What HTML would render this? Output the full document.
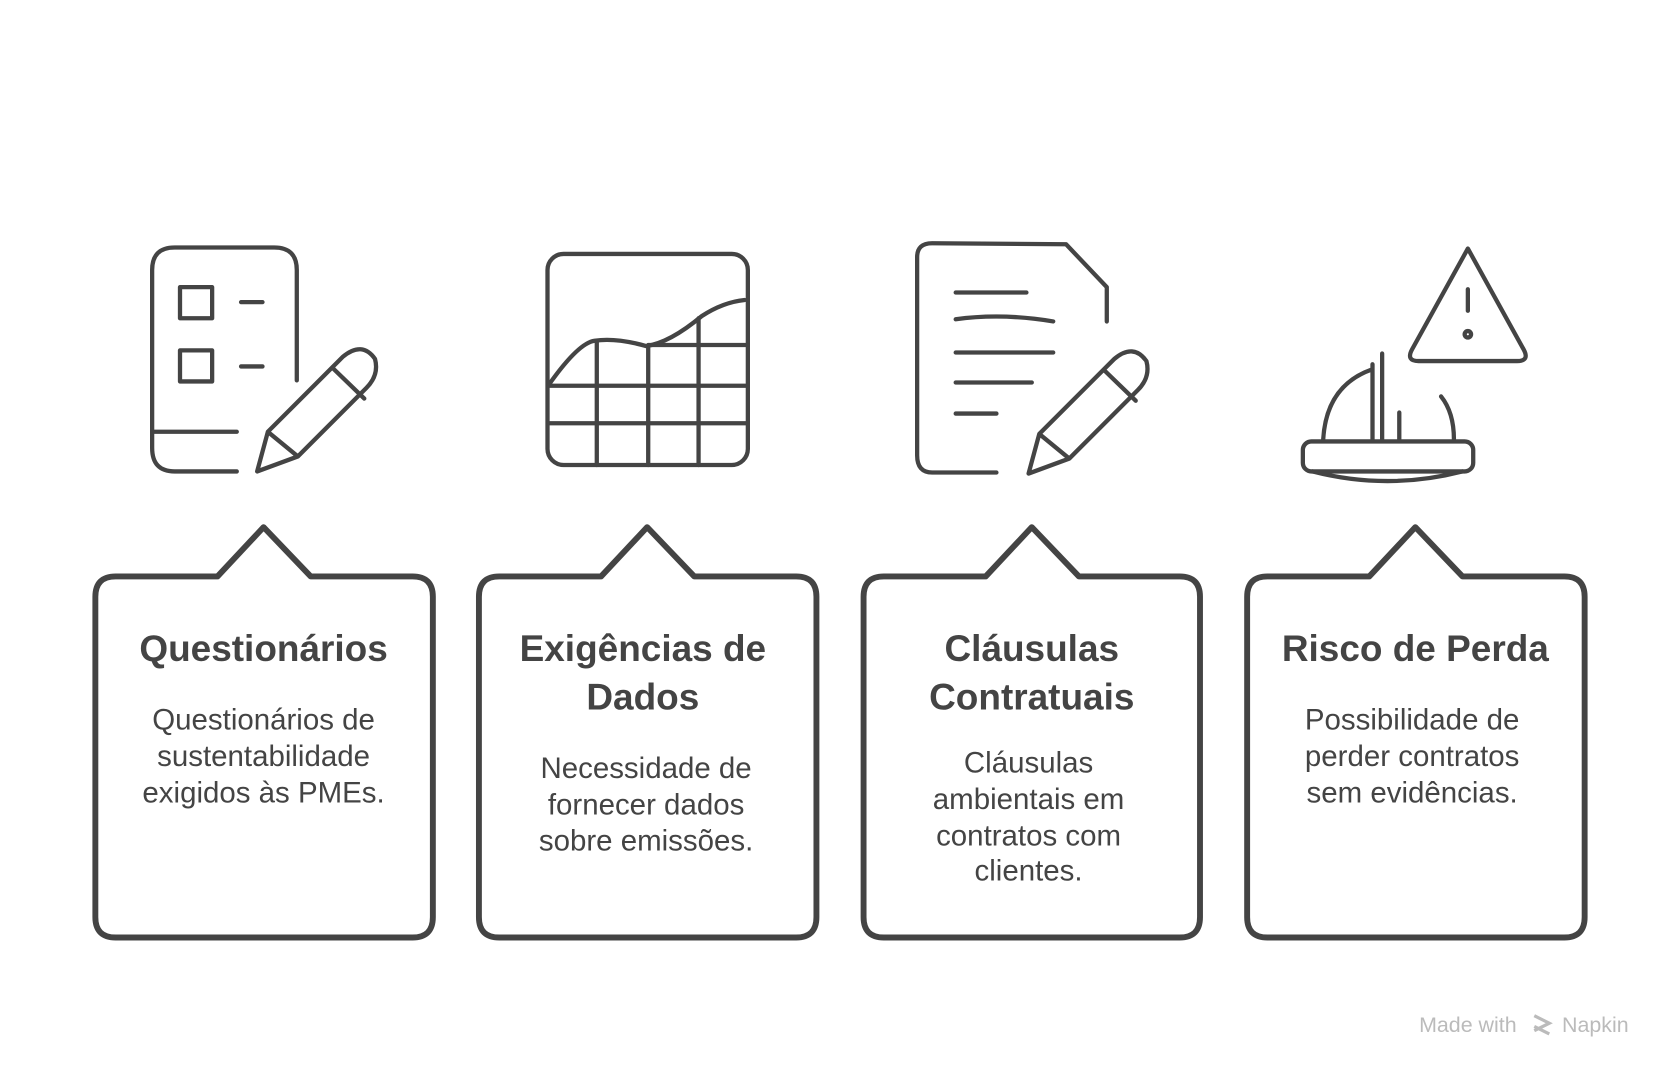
<!DOCTYPE html>
<html><head><meta charset="utf-8"><style>
html,body{margin:0;padding:0;background:#fff;}
svg{display:block;}
text{font-family:"Liberation Sans",sans-serif;fill:#444;text-anchor:middle;}
.t{font-weight:bold;font-size:34.5px;}
.b{font-size:27.5px;}
</style></head><body>
<svg width="1680" height="1080" viewBox="0 0 1568 1008" xmlns="http://www.w3.org/2000/svg">
<g fill="none" stroke="#444" stroke-width="5.5" stroke-linejoin="round" stroke-linecap="round">
<path d="M108 538 L203 538 L246 492 L290 538 L385 538 Q404 538 404 557 L404 856 Q404 875 385 875 L108 875 Q89 875 89 856 L89 557 Q89 538 108 538 Z"/>
<path d="M466 538 L561 538 L604 492 L648 538 L743 538 Q762 538 762 557 L762 856 Q762 875 743 875 L466 875 Q447 875 447 856 L447 557 Q447 538 466 538 Z"/>
<path d="M825 538 L920 538 L963 492 L1007 538 L1101 538 Q1120 538 1120 557 L1120 856 Q1120 875 1101 875 L825 875 Q806 875 806 856 L806 557 Q806 538 825 538 Z"/>
<path d="M1183 538 L1278 538 L1321 492 L1365 538 L1460 538 Q1479 538 1479 557 L1479 856 Q1479 875 1460 875 L1183 875 Q1164 875 1164 856 L1164 557 Q1164 538 1183 538 Z"/>
</g>
<g fill="none" stroke="#444" stroke-width="4" stroke-linejoin="round" stroke-linecap="round">
<path d="M221 440 L163 440 Q142 440 142 418 L142 252 Q142 231 163 231 L256 231 Q277 231 277 252 L277 355"/>
<rect x="168" y="268" width="30" height="29"/><rect x="168" y="327" width="30" height="29"/>
<path d="M225 282 L245 282 M225 342 L245 342 M143 403 L221 403"/>
<path d="M240 440 L250 403 L320 333 Q338 318 350 335 Q354 350 342 362 L278 426 Z M250 403 L278 426 M310 343 L340 372"/>
<rect x="511" y="237" width="187" height="197" rx="15"/>
<path d="M513 358 Q540 320 555 318 Q575 315 603 323 Q625 320 655 295 Q675 282 695 280"/>
<path d="M557 318 L557 434 M605 322 L605 434 M652 297 L652 434 M513 360 L697 360 M513 395 L697 395 M605 322 L697 322"/>
<path d="M930 441 L870 441 Q856 441 856 425 L856 240 Q856 227 870 227 L995 228 L1033 268 L1033 300"/>
<path d="M892 273 L958 273 M892 298 Q935 292 983 300 M892 329 L983 329 M892 357 L963 357 M892 386 L930 386"/>
<path d="M960 442 L970 405 L1040 335 Q1058 320 1070 337 Q1074 352 1062 364 L998 428 Z M970 405 L998 428 M1030 345 L1060 374"/>
<path d="M1370 232 L1422 326 Q1428 337 1416 337 L1324 337 Q1312 337 1318 326 Z"/>
<path d="M1370 270 L1370 290"/><circle cx="1370" cy="312" r="3"/>
<path d="M1235 410 Q1238 360 1280 345 M1281 340 L1281 410 M1290 330 L1290 410 M1306 385 L1306 410 M1345 370 Q1357 385 1357 410"/>
<rect x="1216" y="412" width="159" height="28" rx="8"/>
<path d="M1225 440 Q1295 458 1365 440"/>
</g>
<text class="t" x="246" y="617">Questionários</text>
<text class="b" x="246" y="681">Questionários de</text>
<text class="b" x="246" y="715">sustentabilidade</text>
<text class="b" x="246" y="749">exigidos às PMEs.</text>
<text class="t" x="600" y="617">Exigências de</text>
<text class="t" x="600" y="662">Dados</text>
<text class="b" x="603" y="726">Necessidade de</text>
<text class="b" x="603" y="760">fornecer dados</text>
<text class="b" x="603" y="794">sobre emissões.</text>
<text class="t" x="963" y="617">Cláusulas</text>
<text class="t" x="963" y="662">Contratuais</text>
<text class="b" x="960" y="721">Cláusulas</text>
<text class="b" x="960" y="755">ambientais em</text>
<text class="b" x="960" y="789">contratos com</text>
<text class="b" x="960" y="822">clientes.</text>
<text class="t" x="1321" y="617">Risco de Perda</text>
<text class="b" x="1318" y="681">Possibilidade de</text>
<text class="b" x="1318" y="715">perder contratos</text>
<text class="b" x="1318" y="749">sem evidências.</text>
<text x="1370" y="963" style="font-size:20px;fill:#bbb">Made with</text>
<path d="M1432 948 L1446 955 L1432 962 M1432 958 L1446 965" stroke="#bbb" stroke-width="3" fill="none"/>
<text x="1489" y="963" style="font-size:20px;fill:#bbb">Napkin</text>
</svg>
</body></html>
